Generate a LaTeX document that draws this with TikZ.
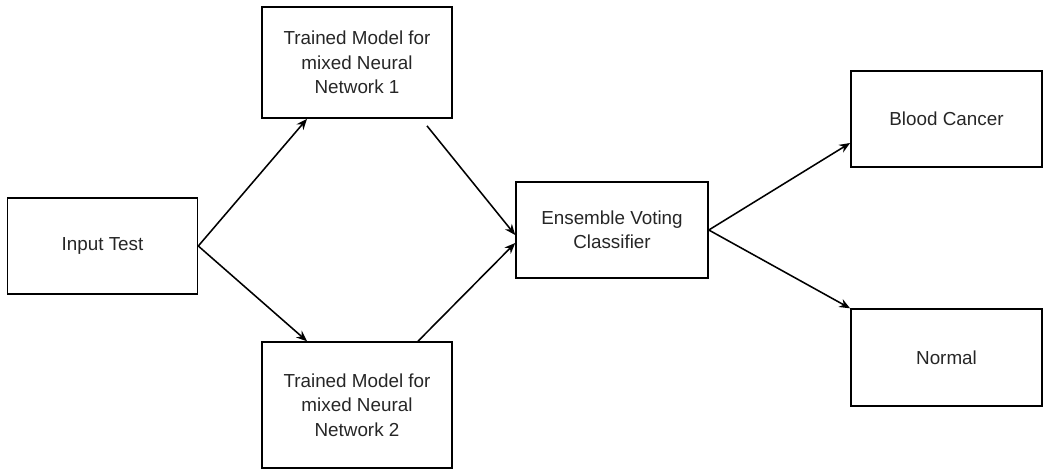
\documentclass[tikz,border=0pt]{standalone}
\usepackage{fontspec}
\setmainfont{Liberation Sans}
\usetikzlibrary{arrows.meta,calc}

\begin{document}
\begin{tikzpicture}[x = 0.025cm, y = -0.025cm,
                    line width = 1.1pt,
                    box/.style = {rectangle, draw, inner sep = 0pt, align = center,
                                  minimum width = 4.75cm, minimum height = 2.4cm,
                                  font = \fontsize{13.4}{17.4}\selectfont, text = black!85},
                    link/.style = {-{Stealth[length = 0.27cm, width = 0.22cm]}}]

\useasboundingbox (0,0) rectangle (1045,470);

% input and the two trained models
\node [box] (input) at (102.5,246) {Input Test};
\node [box, minimum height = 2.78cm] (tm1) at (357,62.5) {Trained Model for\\mixed Neural\\Network 1};
\node [box, minimum height = 3.15cm] (tm2) at (357,405) {Trained Model for\\mixed Neural\\Network 2};

% voting and the two outcomes
\node [box, minimum width = 4.8cm] (ens) at (612,230) {Ensemble Voting\\Classifier};
\node [box, minimum width = 4.78cm] (cancer) at (946.5,119) {Blood Cancer};
\node [box, minimum width = 4.78cm, minimum height = 2.42cm] (normal) at (946.5,357.5) {Normal};

\draw [link] (input.east) -- ($(tm1.south)+(-50,0)$);
\draw [link] (input.east) -- ($(tm2.north)+(-50,0)$);

\draw [link] ($(tm1.south)+(70,7)$) -- ($(ens.west)+(0,5)$);
\draw [link] ($(tm2.north)+(61,0)$) -- ($(ens.west)+(0,13)$);

\draw [link] (ens.east) -- ($(cancer.west)+(0,24)$);
\draw [link] (ens.east) -- (normal.north west);
\end{tikzpicture}
\end{document}
